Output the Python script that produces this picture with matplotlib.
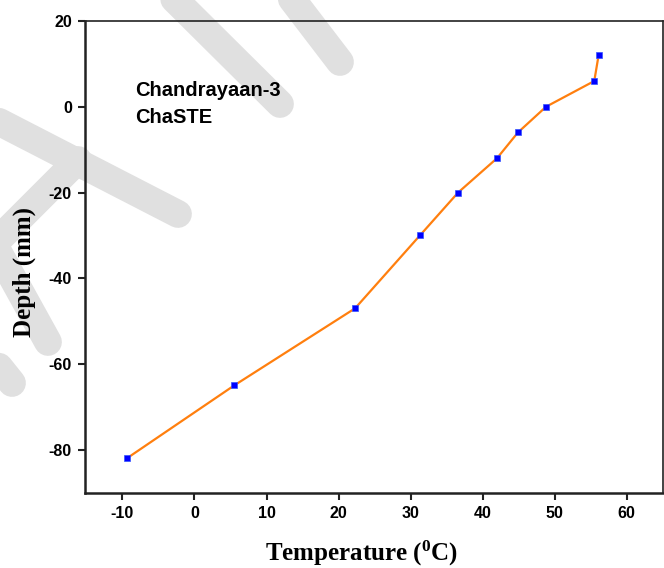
import matplotlib
matplotlib.use("Agg")
import matplotlib.pyplot as plt
from matplotlib.lines import Line2D

temperature = [-9.4, 5.5, 22.3, 31.3, 36.6, 42.0, 44.9, 48.8, 55.5, 56.1]
depth = [-82, -65, -47, -30, -20, -12, -6, 0, 6, 12]
x_ticks = [-10, 0, 10, 20, 30, 40, 50, 60]
y_ticks = [-80, -60, -40, -20, 0, 20]

W, H = 664, 568
fig = plt.figure(figsize=(W / 100, H / 100), dpi=100)

plt.rcParams["mathtext.fontset"] = "custom"
plt.rcParams["mathtext.rm"] = "Liberation Serif:bold"
plt.rcParams["mathtext.bf"] = "Liberation Serif:bold"

# watermark strokes (figure pixel coords, y from top)
strokes = [
    [(150, -25), (280, 104)],
    [(262, -40), (340, 62)],
    [(-20, 112), (178, 214)],
    [(78, 160), (-20, 258)],
    [(-15, 228), (48, 342)],
    [(-40, 318), (12, 383)],
]
for (x0, y0), (x1, y1) in strokes:
    fig.add_artist(Line2D([x0 / W, x1 / W], [1 - y0 / H, 1 - y1 / H],
                          transform=fig.transFigure, color="#e0e0e0",
                          lw=20, solid_capstyle="round", zorder=-5))

ax_left, ax_right, ax_top, ax_bottom = 85, 662.7, 21, 492.7
ax = fig.add_axes([ax_left / W, 1 - ax_bottom / H, (ax_right - ax_left) / W,
                   (ax_bottom - ax_top) / H])
ax.set_facecolor("none")

ax.plot(temperature, depth, color="#ff7f0e", lw=1.6, zorder=2)
ax.plot(temperature, depth, ls="none", marker="s", ms=4.2, mfc="#0000ff",
        mec="#3355ff", mew=0.5, zorder=3)

ax.set_xlim(-15.2, 65)
ax.set_ylim(-90, 20)
ax.set_xticks(x_ticks)
ax.set_yticks(y_ticks)

tick_font = dict(family=["Liberation Sans", "DejaVu Sans"], weight="bold", size=11.5)
ax.set_xticklabels([str(v) for v in x_ticks], **tick_font)
ax.set_yticklabels([str(v) for v in y_ticks], **tick_font)
ax.tick_params(direction="out", length=5, width=1.5, color="#222222", pad=4.5)
ax.tick_params(top=False, right=False)

for s in ["left", "bottom"]:
    ax.spines[s].set_linewidth(1.8)
    ax.spines[s].set_color("#222222")
for s in ["top", "right"]:
    ax.spines[s].set_linewidth(1.2)
    ax.spines[s].set_color("#222222")

aw, ah = ax_right - ax_left, ax_bottom - ax_top
label_font = dict(family=["Liberation Serif", "DejaVu Serif"], weight="bold", size=18)
ax.set_ylabel("Depth (mm)", **label_font)
ax.set_xlabel(r"Temperature ($\mathbf{^{0}}$C)", **label_font)
ax.yaxis.set_label_coords((36 - ax_left) / aw, (ax_bottom - 272) / ah)
ax.xaxis.set_label_coords((362 - ax_left) / aw, (ax_bottom - 539) / ah)

note_font = dict(family=["Liberation Sans", "DejaVu Sans"], weight="bold", size=14.5)
ax.text(135 / W, 1 - 96 / H, "Chandrayaan-3", transform=fig.transFigure,
        va="baseline", ha="left", **note_font)
ax.text(135 / W, 1 - 123 / H, "ChaSTE", transform=fig.transFigure,
        va="baseline", ha="left", **note_font)

fig.savefig("out.png", dpi=100)
